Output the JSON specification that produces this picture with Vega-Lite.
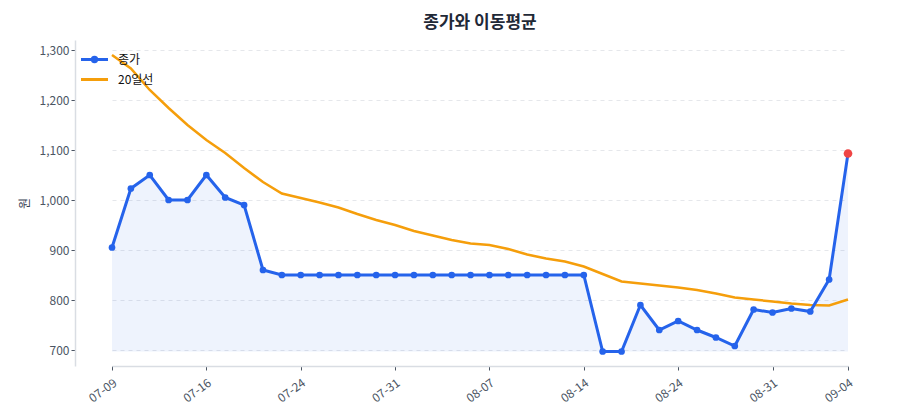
{
  "$schema": "https://vega.github.io/schema/vega-lite/v6.json",
  "width": 810,
  "height": 326,
  "autosize": "none",
  "padding": {"left": 75, "top": 40, "right": 15, "bottom": 54},
  "background": "white",
  "config": {
    "font": "Noto Sans CJK KR",
    "view": {"stroke": null},
    "axis": {
      "labelFont": "Noto Sans CJK KR",
      "titleFont": "Noto Sans CJK KR",
      "labelColor": "#4b5563",
      "labelFontSize": 12,
      "domainColor": "#d9dde3",
      "domainWidth": 1.5,
      "tickColor": "#4b5563",
      "tickSize": 4
    }
  },
  "title": {
    "text": "종가와 이동평균",
    "fontSize": 17,
    "fontWeight": "bold",
    "color": "#1f2937",
    "offset": 8
  },
  "data": {
    "values": [
      {"date": "07-09", "close": 905, "ma": 1290},
      {"date": "07-10", "close": 1023, "ma": 1263},
      {"date": "07-11", "close": 1050, "ma": 1220},
      {"date": "07-14", "close": 1000, "ma": 1184},
      {"date": "07-15", "close": 1000, "ma": 1150},
      {"date": "07-16", "close": 1050, "ma": 1120},
      {"date": "07-17", "close": 1005, "ma": 1094},
      {"date": "07-18", "close": 990, "ma": 1064},
      {"date": "07-21", "close": 860, "ma": 1036},
      {"date": "07-22", "close": 850, "ma": 1013},
      {"date": "07-24", "close": 850, "ma": 1004},
      {"date": "07-25", "close": 850, "ma": 995},
      {"date": "07-28", "close": 850, "ma": 985},
      {"date": "07-29", "close": 850, "ma": 972},
      {"date": "07-30", "close": 850, "ma": 960},
      {"date": "07-31", "close": 850, "ma": 950},
      {"date": "08-01", "close": 850, "ma": 938},
      {"date": "08-04", "close": 850, "ma": 929},
      {"date": "08-05", "close": 850, "ma": 920},
      {"date": "08-06", "close": 850, "ma": 913},
      {"date": "08-07", "close": 850, "ma": 910},
      {"date": "08-08", "close": 850, "ma": 902},
      {"date": "08-11", "close": 850, "ma": 891},
      {"date": "08-12", "close": 850, "ma": 883},
      {"date": "08-13", "close": 850, "ma": 877},
      {"date": "08-14", "close": 850, "ma": 867},
      {"date": "08-18", "close": 697, "ma": 852},
      {"date": "08-19", "close": 697, "ma": 837},
      {"date": "08-20", "close": 790, "ma": 833},
      {"date": "08-21", "close": 740, "ma": 829},
      {"date": "08-24", "close": 758, "ma": 825},
      {"date": "08-25", "close": 740, "ma": 820},
      {"date": "08-26", "close": 725, "ma": 813},
      {"date": "08-27", "close": 708, "ma": 805},
      {"date": "08-28", "close": 781, "ma": 801},
      {"date": "08-31", "close": 775, "ma": 797},
      {"date": "09-01", "close": 783, "ma": 793},
      {"date": "09-02", "close": 777, "ma": 790},
      {"date": "09-03", "close": 841, "ma": 789},
      {"date": "09-04", "close": 1093, "ma": 801}
    ]
  },
  "encoding": {
    "x": {
      "field": "date",
      "type": "ordinal",
      "sort": null,
      "scale": {"type": "point", "padding": 0, "range": [37, 773]},
      "axis": {
        "title": null,
        "values": ["07-09", "07-16", "07-24", "07-31", "08-07", "08-14", "08-24", "08-31", "09-04"],
        "labelAngle": -36,
        "labelAlign": "right",
        "labelBaseline": "top",
        "labelPadding": 7,
        "grid": false
      }
    }
  },
  "layer": [
    {
      "mark": {"type": "area", "color": "#2563eb", "opacity": 0.08},
      "encoding": {
        "y": {"field": "close", "type": "quantitative"},
        "y2": {"datum": 697}
      }
    },
    {
      "mark": {"type": "line", "strokeWidth": 2.5},
      "encoding": {
        "y": {"field": "ma", "type": "quantitative"},
        "color": {"datum": "20일선"}
      }
    },
    {
      "mark": {"type": "line", "strokeWidth": 3},
      "encoding": {
        "y": {
          "field": "close",
          "type": "quantitative",
          "scale": {"domain": [668, 1320], "nice": false, "zero": false},
          "axis": {
            "title": "원",
            "titleColor": "#374151",
            "titleFontSize": 12,
            "titleFontWeight": "normal",
            "titlePadding": 8,
            "values": [700, 800, 900, 1000, 1100, 1200, 1300],
            "format": ",.0f",
            "grid": true,
            "gridColor": "#e5e7eb",
            "gridDash": [4, 4],
            "gridWidth": 1
          }
        },
        "color": {
          "datum": "종가",
          "scale": {"domain": ["종가", "20일선"], "range": ["#2563eb", "#f59e0b"]},
          "legend": {
            "title": null,
            "orient": "top-left",
            "offset": 8,
            "symbolType": "M-1.35,0L1.35,0",
            "symbolSize": 400,
            "symbolStrokeWidth": 3,
            "labelFontSize": 12,
            "labelColor": "#111111",
            "labelOffset": 12,
            "rowPadding": 0,
            "encode": {
              "symbols": {
                "update": {
                  "shape": {"signal": "datum.value === '종가' ? 'M-1.35,0L1.35,0M0.22,0A0.22,0.22,0,1,1,-0.22,0A0.22,0.22,0,1,1,0.22,0' : 'M-1.35,0L1.35,0'"},
                  "fill": {"signal": "datum.value === '종가' ? '#2563eb' : 'transparent'"}
                }
              }
            }
          }
        }
      }
    },
    {
      "mark": {"type": "point", "filled": true, "size": 45, "opacity": 1, "color": "#2563eb"},
      "encoding": {
        "y": {"field": "close", "type": "quantitative"}
      }
    },
    {
      "transform": [{"filter": "datum.date === '09-04'"}],
      "mark": {"type": "point", "filled": true, "size": 75, "opacity": 1, "color": "#ef4444"},
      "encoding": {
        "y": {"field": "close", "type": "quantitative"}
      }
    }
  ]
}
